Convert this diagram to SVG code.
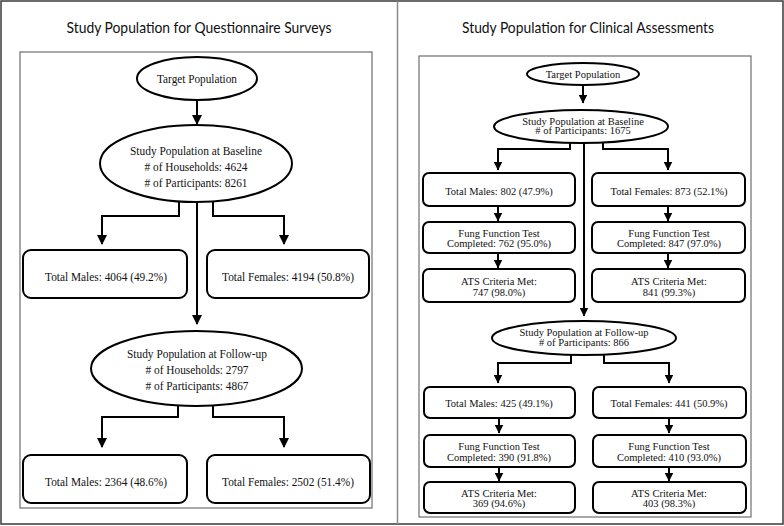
<svg xmlns="http://www.w3.org/2000/svg" width="784" height="526" viewBox="0 0 784 526">
<style>
.frame{fill:none;stroke:#3a3a3a;stroke-width:1.5}
.div{stroke:#8a8a8a;stroke-width:1.5}
.inner{fill:none;stroke:#6e6e6e;stroke-width:1.2}
.title{font-family:"Lato","Open Sans","Liberation Sans",sans-serif;font-size:15px;text-anchor:middle;fill:#111}
.node{fill:#fff;stroke:#000;stroke-width:2}
.tl{font-family:"Liberation Serif","Times New Roman",serif;font-size:12.5px;text-anchor:middle;fill:#111}
.tr{font-family:"Liberation Serif","Times New Roman",serif;font-size:10.5px;text-anchor:middle;fill:#111}
.con{fill:none;stroke:#000;stroke-width:2;marker-end:url(#ah)}
.conr{fill:none;stroke:#000;stroke-width:2;marker-end:url(#ahs)}
</style>
<defs>
<marker id="ah" markerUnits="userSpaceOnUse" markerWidth="10" markerHeight="10" refX="5" refY="9" orient="0" viewBox="0 0 10 10">
<path d="M0,0 L10,0 L5,10 z" fill="#000"/>
</marker>
<marker id="ahs" markerUnits="userSpaceOnUse" markerWidth="9" markerHeight="9" refX="4.5" refY="8.5" orient="0" viewBox="0 0 9 9">
<path d="M0,0 L9,0 L4.5,9 z" fill="#000"/>
</marker>
</defs>
<rect x="0" y="0" width="784" height="526" fill="#fff"/>
<rect class="frame" x="1" y="1" width="782" height="523"/>
<line class="div" x1="397.5" y1="1" x2="397.5" y2="524"/>
<text class="title" x="199" y="33" textLength="265" lengthAdjust="spacingAndGlyphs">Study Population for Questionnaire Surveys</text>
<text class="title" x="588" y="33" textLength="252" lengthAdjust="spacingAndGlyphs">Study Population for Clinical Assessments</text>
<rect class="inner" x="20" y="52" width="352" height="456"/>
<rect class="inner" x="419" y="56" width="332" height="461"/>

<g id="connectors">
<line class="con" x1="197" y1="100" x2="197" y2="124"/>
<line class="con" x1="197" y1="202" x2="197" y2="324"/>
<polyline class="con" points="179,201 179,216 102,216 102,244"/>
<polyline class="con" points="213,201 213,216 284,216 284,244"/>
<polyline class="con" points="178,405 178,417 102,417 102,447"/>
<polyline class="con" points="213,405 213,417 284,417 284,447"/>

<line class="conr" x1="583" y1="85" x2="583" y2="103"/>
<line class="conr" x1="584" y1="143" x2="584" y2="316"/>
<polyline class="conr" points="570,142 570,149 498,149 498,170"/>
<polyline class="conr" points="603,142 603,149 668,149 668,170"/>
<line class="conr" x1="498" y1="206" x2="498" y2="221"/>
<line class="conr" x1="498" y1="253" x2="498" y2="268"/>
<line class="conr" x1="668" y1="206" x2="668" y2="221"/>
<line class="conr" x1="668" y1="253" x2="668" y2="268"/>
<polyline class="conr" points="571,354 571,363 498,363 498,383"/>
<polyline class="conr" points="604,354 604,363 669,363 669,383"/>
<line class="conr" x1="499" y1="418" x2="499" y2="433"/>
<line class="conr" x1="499" y1="467" x2="499" y2="481"/>
<line class="conr" x1="669" y1="418" x2="669" y2="433"/>
<line class="conr" x1="669" y1="467" x2="669" y2="481"/>
</g>

<g id="q-target">
<ellipse class="node" cx="197" cy="78.5" rx="60" ry="21.5"/>
<text class="tl" x="197" y="83" textLength="80" lengthAdjust="spacingAndGlyphs">Target Population</text>
</g>
<g id="q-baseline">
<ellipse class="node" cx="196" cy="163.5" rx="96" ry="38.5"/>
<text class="tl" x="196" y="155" textLength="132" lengthAdjust="spacingAndGlyphs">Study Population at Baseline</text>
<text class="tl" x="196" y="171" textLength="103" lengthAdjust="spacingAndGlyphs"># of Households: 4624</text>
<text class="tl" x="196" y="187" textLength="103" lengthAdjust="spacingAndGlyphs"># of Participants: 8261</text>
</g>
<g id="q-males-base">
<rect class="node" x="23" y="250" width="164" height="48" rx="8"/>
<text class="tl" x="106" y="281" textLength="122" lengthAdjust="spacingAndGlyphs">Total Males: 4064 (49.2%)</text>
</g>
<g id="q-females-base">
<rect class="node" x="207" y="250" width="162" height="48" rx="8"/>
<text class="tl" x="288" y="281" textLength="132" lengthAdjust="spacingAndGlyphs">Total Females: 4194 (50.8%)</text>
</g>
<g id="q-followup">
<ellipse class="node" cx="196.5" cy="368.5" rx="105.5" ry="37.5"/>
<text class="tl" x="197" y="358" textLength="140" lengthAdjust="spacingAndGlyphs">Study Population at Follow-up</text>
<text class="tl" x="197" y="374" textLength="103" lengthAdjust="spacingAndGlyphs"># of Households: 2797</text>
<text class="tl" x="197" y="390" textLength="103" lengthAdjust="spacingAndGlyphs"># of Participants: 4867</text>
</g>
<g id="q-males-fu">
<rect class="node" x="23" y="455" width="164" height="48" rx="8"/>
<text class="tl" x="106" y="486" textLength="122" lengthAdjust="spacingAndGlyphs">Total Males: 2364 (48.6%)</text>
</g>
<g id="q-females-fu">
<rect class="node" x="207" y="455" width="163" height="48" rx="8"/>
<text class="tl" x="288" y="486" textLength="132" lengthAdjust="spacingAndGlyphs">Total Females: 2502 (51.4%)</text>
</g>

<g id="c-target">
<ellipse class="node" cx="583" cy="74" rx="56" ry="11"/>
<text class="tr" x="583" y="77.5">Target Population</text>
</g>
<g id="c-baseline">
<ellipse class="node" cx="581" cy="126.5" rx="87" ry="16.5"/>
<text class="tr" x="583" y="124.5">Study Population at Baseline</text>
<text class="tr" x="583" y="134">
# of Participants: 1675</text>
</g>
<g id="c-males-base">
<rect class="node" x="423" y="173" width="152" height="33" rx="6"/>
<text class="tr" x="499" y="194.5">Total Males: 802 (47.9%)</text>
</g>
<g id="c-fung-m-base">
<rect class="node" x="423" y="222" width="152" height="31" rx="6"/>
<text class="tr" x="499" y="236.5">Fung Function Test</text>
<text class="tr" x="499" y="247">Completed: 762 (95.0%)</text>
</g>
<g id="c-ats-m-base">
<rect class="node" x="423" y="269" width="152" height="33" rx="6"/>
<text class="tr" x="499" y="284.5">ATS Criteria Met:</text>
<text class="tr" x="499" y="295.5">747 (98.0%)</text>
</g>
<g id="c-females-base">
<rect class="node" x="592" y="173" width="153" height="33" rx="6"/>
<text class="tr" x="669" y="194.5">Total Females: 873 (52.1%)</text>
</g>
<g id="c-fung-f-base">
<rect class="node" x="592" y="222" width="153" height="31" rx="6"/>
<text class="tr" x="669" y="236.5">Fung Function Test</text>
<text class="tr" x="669" y="247">Completed: 847 (97.0%)</text>
</g>
<g id="c-ats-f-base">
<rect class="node" x="592" y="269" width="153" height="33" rx="6"/>
<text class="tr" x="669" y="284.5">ATS Criteria Met:</text>
<text class="tr" x="669" y="295.5">841 (99.3%)</text>
</g>
<g id="c-followup">
<ellipse class="node" cx="584" cy="338" rx="92" ry="17"/>
<text class="tr" x="584" y="335.5">Study Population at Follow-up</text>
<text class="tr" x="584" y="346">
# of Participants: 866</text>
</g>
<g id="c-males-fu">
<rect class="node" x="424" y="387" width="151" height="31" rx="6"/>
<text class="tr" x="499" y="406.5">Total Males: 425 (49.1%)</text>
</g>
<g id="c-fung-m-fu">
<rect class="node" x="424" y="435" width="151" height="32" rx="6"/>
<text class="tr" x="499" y="449.5">Fung Function Test</text>
<text class="tr" x="499" y="460.5">Completed: 390 (91.8%)</text>
</g>
<g id="c-ats-m-fu">
<rect class="node" x="424" y="482" width="151" height="31" rx="6"/>
<text class="tr" x="499" y="496.5">ATS Criteria Met:</text>
<text class="tr" x="499" y="507">369 (94.6%)</text>
</g>
<g id="c-females-fu">
<rect class="node" x="593" y="387" width="153" height="31" rx="6"/>
<text class="tr" x="669" y="406.5">Total Females: 441 (50.9%)</text>
</g>
<g id="c-fung-f-fu">
<rect class="node" x="593" y="435" width="153" height="32" rx="6"/>
<text class="tr" x="669" y="449.5">Fung Function Test</text>
<text class="tr" x="669" y="460.5">Completed: 410 (93.0%)</text>
</g>
<g id="c-ats-f-fu">
<rect class="node" x="593" y="482" width="153" height="31" rx="6"/>
<text class="tr" x="669" y="496.5">ATS Criteria Met:</text>
<text class="tr" x="669" y="507">403 (98.3%)</text>
</g>
</svg>
